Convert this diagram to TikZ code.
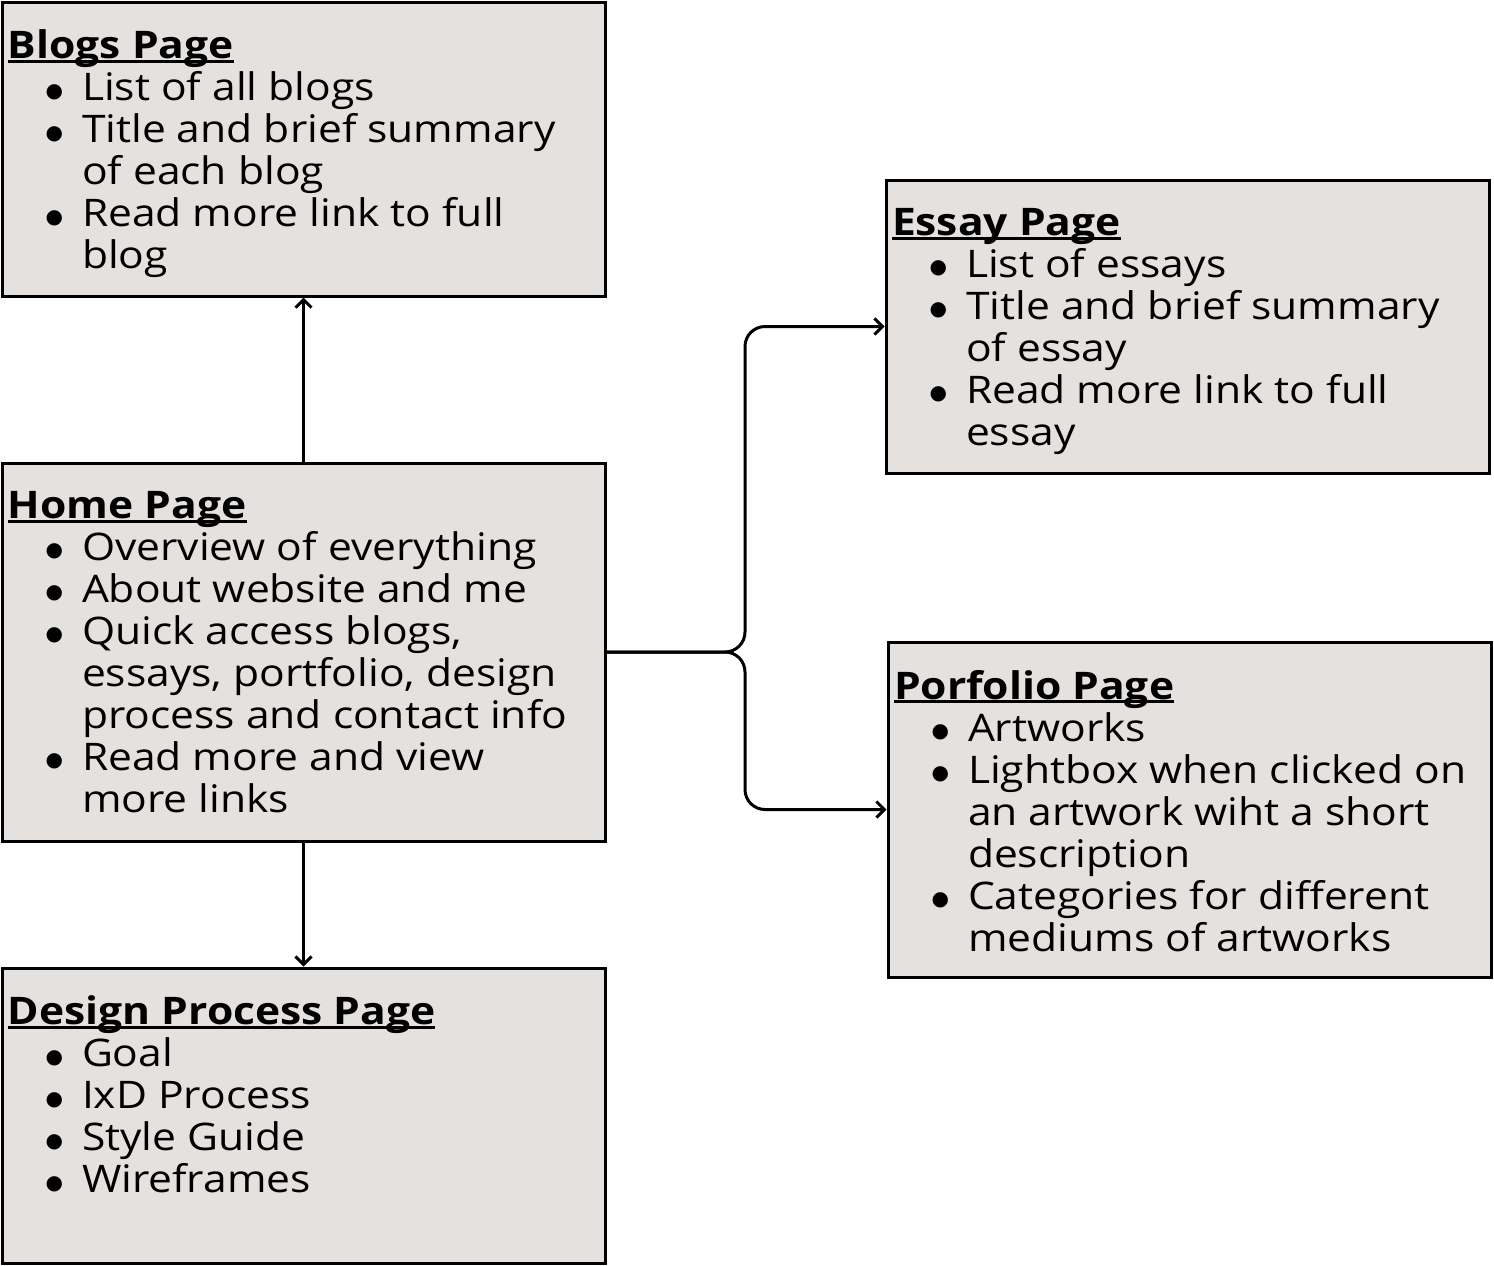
\documentclass[tikz,border=0pt]{standalone}
\usepackage{fontspec}
\setmainfont{Open Sans}[FakeStretch=1.12]
\newfontfamily\dotfont{DejaVu Sans}
\usepackage{tikz}
\usetikzlibrary{arrows.meta, positioning, calc}
\usepackage{xcolor}
\definecolor{pagegray}{RGB}{228,225,222}
\newsavebox{\ttlbox}
\newcommand{\ttl}[1]{\sbox{\ttlbox}{\textbf{#1}}\rlap{\rule[-2.2pt]{\wd\ttlbox}{1.5pt}}\usebox{\ttlbox}}
\newcommand{\dotmark}{\raisebox{1.7pt}{\dotfont\fontsize{10}{10}\selectfont ●}}
\newcommand{\bul}[1]{\makebox[37pt][r]{\dotmark\hspace{9.5pt}}#1}
\newcommand{\cont}[1]{\hspace*{37pt}#1}

\begin{document}
\begin{tikzpicture}[x=0.5pt, y=-0.5pt, line width=1.5pt,
  page/.style={draw, fill=pagegray, minimum width=301.5pt, inner sep=0pt},
  pagetext/.style={anchor=north west, inner sep=0pt, align=left,
    font=\fontsize{19}{21}\selectfont},
  link/.style={-{Straight Barb[length=4pt, width=8pt]}}]
  \useasboundingbox (0,0) rectangle (1494,1265);

  % Left column
  \node[page, minimum height=147pt] (blogs) at (303.5,149) {};
  \node[page, minimum height=189pt] (home) at (303.5,652) {};
  \node[page, minimum height=147.5pt] (design) at (303.5,1115.5) {};

  % Right column
  \node[page, minimum height=146.5pt] (essay) at (1187.5,326.5) {};
  \node[page, minimum height=167.5pt] (folio) at (1189.5,809.5) {};

  % Texts
  \node[pagetext] (blogs-txt) at ([shift={(3pt,-14pt)}]blogs.north west)
    {\ttl{Blogs Page}\\
     \bul{List of all blogs}\\
     \bul{Title and brief summary}\\
     \cont{of each blog}\\
     \bul{Read more link to full}\\
     \cont{blog}};
  \node[pagetext] (home-txt) at ([shift={(3pt,-14pt)}]home.north west)
    {\ttl{Home Page}\\
     \bul{Overview of everything}\\
     \bul{About website and me}\\
     \bul{Quick access blogs,}\\
     \cont{essays, portfolio, design}\\
     \cont{process and contact info}\\
     \bul{Read more and view}\\
     \cont{more links}};
  \node[pagetext] (design-txt) at ([shift={(3pt,-14pt)}]design.north west)
    {\ttl{Design Process Page}\\
     \bul{Goal}\\
     \bul{IxD Process}\\
     \bul{Style Guide}\\
     \bul{Wireframes}};
  \node[pagetext] (essay-txt) at ([shift={(3pt,-14pt)}]essay.north west)
    {\ttl{Essay Page}\\
     \bul{List of essays}\\
     \bul{Title and brief summary}\\
     \cont{of essay}\\
     \bul{Read more link to full}\\
     \cont{essay}};
  \node[pagetext] (folio-txt) at ([shift={(3pt,-14pt)}]folio.north west)
    {\ttl{Porfolio Page}\\
     \bul{Artworks}\\
     \bul{Lightbox when clicked on}\\
     \cont{an artwork wiht a short}\\
     \cont{description}\\
     \bul{Categories for different}\\
     \cont{mediums of artworks}};

  % Links
  \draw[link] (home) -- (blogs);
  \draw[link] (home) -- (design);
  \coordinate (split) at (745,652);
  \draw[link, rounded corners=10pt] (home.east) -- (split) |- (essay.west);
  \draw[link, rounded corners=10pt] (home.east) -- (split) |- (folio.west);
\end{tikzpicture}
\end{document}
